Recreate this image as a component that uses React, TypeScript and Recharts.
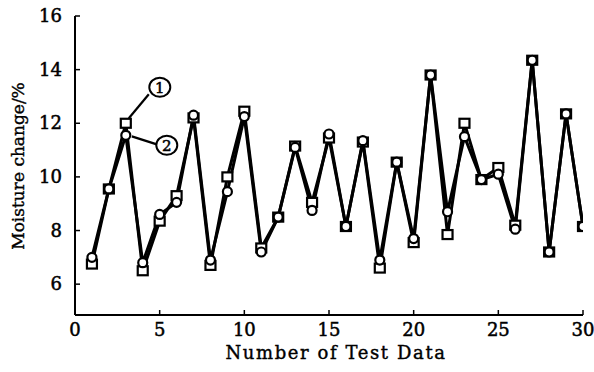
import React from "react";
import { LineChart, Line, XAxis, YAxis, LabelList } from "recharts";

const testNumbers = [1, 2, 3, 4, 5, 6, 7, 8, 9, 10, 11, 12, 13, 14, 15, 16, 17, 18, 19, 20, 21, 22, 23, 24, 25, 26, 27, 28, 29, 30];
const series1 = [6.75, 9.55, 12.0, 6.5, 8.35, 9.3, 12.2, 6.7, 10.0, 12.45, 7.35, 8.5, 11.15, 9.05, 11.45, 8.15, 11.3, 6.6, 10.55, 7.55, 13.8, 7.85, 12.0, 9.9, 10.35, 8.2, 14.35, 7.2, 12.35, 8.15];
const series2 = [7.0, 9.55, 11.55, 6.8, 8.6, 9.05, 12.3, 6.9, 9.45, 12.25, 7.2, 8.5, 11.1, 8.75, 11.6, 8.15, 11.35, 6.9, 10.55, 7.7, 13.8, 8.7, 11.5, 9.9, 10.1, 8.05, 14.35, 7.2, 12.35, 8.15];
const annot1 = ["", "", "1", "", "", "", "", "", "", "", "", "", "", "", "", "", "", "", "", "", "", "", "", "", "", "", "", "", "", ""];
const annot2 = ["", "", "2", "", "", "", "", "", "", "", "", "", "", "", "", "", "", "", "", "", "", "", "", "", "", "", "", "", "", ""];
const xTicks = [0, 5, 10, 15, 20, 25, 30];
const yTicks = [6, 8, 10, 12, 14, 16];

const data = testNumbers.map((n, i) => ({
  n,
  s1: series1[i],
  s2: series2[i],
  a1: annot1[i] || null,
  a2: annot2[i] || null,
}));

const W = 594;
const H = 372;
const M = { top: 16, right: 11, left: 0, bottom: 0 };
const Y_W = 75;
const X_H = 57;
const PLOT_L = M.left + Y_W;
const PLOT_B = H - M.bottom - X_H;
const FONT = "'DejaVu Serif', 'Liberation Serif', serif";

const YTick = (p: any) => (
  <g>
    <line x1={PLOT_L} x2={PLOT_L + 5} y1={p.y} y2={p.y} stroke="#000" strokeWidth={1.5} />
    <text x={PLOT_L - 13} y={p.y} dy={6} textAnchor="end" fontFamily={FONT} fontSize={18} fill="#000" stroke="#000" strokeWidth={0.5}>
      {p.payload.value}
    </text>
  </g>
);

const XTick = (p: any) => (
  <g>
    <line x1={p.x} x2={p.x} y1={PLOT_B} y2={PLOT_B - 5} stroke="#000" strokeWidth={1.5} />
    <text x={p.x} y={PLOT_B + 21} textAnchor="middle" fontFamily={FONT} fontSize={18} fill="#000" stroke="#000" strokeWidth={0.5}>
      {p.payload.value}
    </text>
  </g>
);

const SquareDot = (p: any) => {
  if (p.cx == null || p.cy == null) return <g key={p.key} />;
  return (
    <rect key={p.key} x={p.cx - 5} y={p.cy - 4.5} width={10} height={9} fill="#fff" stroke="#000" strokeWidth={2.2} />
  );
};

const CircleDot = (p: any) => {
  if (p.cx == null || p.cy == null) return <g key={p.key} />;
  return <circle key={p.key} cx={p.cx} cy={p.cy} r={4.5} fill="#fff" stroke="#000" strokeWidth={2.2} />;
};

const Annot1 = (p: any) => {
  if (!p.value) return null;
  const cx = Number(p.x);
  const cy = Number(p.y);
  return (
    <g>
      <line x1={cx + 3} y1={cy - 5} x2={cx + 23} y2={cy - 29} stroke="#000" strokeWidth={2.2} />
      <ellipse cx={cx + 34} cy={cy - 36} rx={10.5} ry={9.5} fill="#fff" stroke="#000" strokeWidth={2} />
      <text x={cx + 34} y={cy - 36} dy={5.5} textAnchor="middle" fontFamily={FONT} fontSize={15} fill="#000" stroke="#000" strokeWidth={0.5}>
        {p.value}
      </text>
    </g>
  );
};

const Annot2 = (p: any) => {
  if (!p.value) return null;
  const cx = Number(p.x);
  const cy = Number(p.y);
  return (
    <g>
      <line x1={cx + 6} y1={cy + 1} x2={cx + 31} y2={cy + 9} stroke="#000" strokeWidth={2.2} />
      <ellipse cx={cx + 41} cy={cy + 10} rx={10.5} ry={9.5} fill="#fff" stroke="#000" strokeWidth={2} />
      <text x={cx + 41} y={cy + 10} dy={5.5} textAnchor="middle" fontFamily={FONT} fontSize={15} fill="#000" stroke="#000" strokeWidth={0.5}>
        {p.value}
      </text>
    </g>
  );
};

export default function App() {
  return (
    <div style={{ position: "absolute", left: 0, top: 0, width: W, height: H, background: "#fff" }}>
      <LineChart width={W} height={H} data={data} margin={M}>
        <XAxis
          xAxisId="b"
          dataKey="n"
          type="number"
          domain={[0, 30]}
          ticks={xTicks}
          height={X_H}
          tick={<XTick />}
          tickLine={false}
          axisLine={{ stroke: "#000", strokeWidth: 2 }}
          allowDataOverflow
        />
        <XAxis xAxisId="t" orientation="top" dataKey="n" type="number" domain={[0, 30]} height={0} tick={false} tickLine={false} axisLine={{ stroke: "#000", strokeWidth: 2 }} />
        <YAxis
          yAxisId="l"
          type="number"
          domain={[4.85, 16]}
          ticks={yTicks}
          width={Y_W}
          tick={<YTick />}
          tickLine={false}
          axisLine={{ stroke: "#000", strokeWidth: 2 }}
          allowDataOverflow
        />
        <YAxis yAxisId="r" orientation="right" type="number" domain={[4.85, 16]} width={0} tick={false} tickLine={false} axisLine={{ stroke: "#000", strokeWidth: 2 }} />
        <Line
          xAxisId="b"
          yAxisId="l"
          type="linear"
          dataKey="s1"
          stroke="#000"
          strokeWidth={3}
          dot={<SquareDot />}
          isAnimationActive={false}
        >
          <LabelList dataKey="a1" content={<Annot1 />} />
        </Line>
        <Line
          xAxisId="b"
          yAxisId="l"
          type="linear"
          dataKey="s2"
          stroke="#000"
          strokeWidth={3}
          dot={<CircleDot />}
          isAnimationActive={false}
        >
          <LabelList dataKey="a2" content={<Annot2 />} />
        </Line>
      </LineChart>
      <div
        style={{
          position: "absolute",
          left: 0,
          width: W,
          top: 342,
          textAlign: "center",
          paddingLeft: 78,
          boxSizing: "border-box",
          fontFamily: FONT,
          fontSize: 18,
          letterSpacing: 1.6,
          color: "#000",
          WebkitTextStroke: "0.4px #000",
        }}
      >
        Number of Test Data
      </div>
      <div
        style={{
          position: "absolute",
          left: 18,
          top: 166,
          transform: "translate(-50%, -50%) rotate(-90deg)",
          whiteSpace: "nowrap",
          fontFamily: FONT,
          fontSize: 17,
          color: "#000",
          WebkitTextStroke: "0.4px #000",
        }}
      >
        Moisture change/%
      </div>
    </div>
  );
}
